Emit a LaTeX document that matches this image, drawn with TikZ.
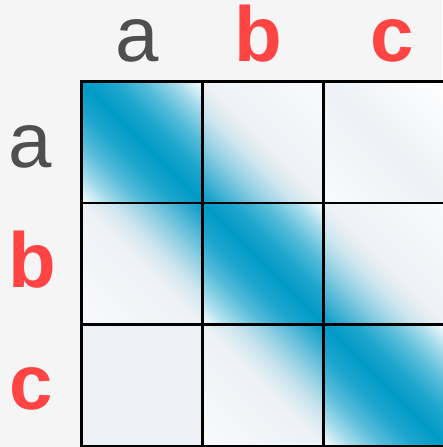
\documentclass[tikz,border=0pt]{standalone}
\usepackage{fontspec}
\setmainfont{Liberation Sans}
\usetikzlibrary{positioning}

\definecolor{bandblue}{RGB}{0,154,199}
\definecolor{cellgrey}{RGB}{237,241,245}
\definecolor{cellpale}{RGB}{249,250,252}
\definecolor{pagegrey}{RGB}{245,245,245}
\definecolor{labelgrey}{RGB}{79,79,79}
\definecolor{labelred}{RGB}{255,68,68}
\colorlet{bandA}{bandblue!88!white}
\colorlet{bandB}{bandblue!66!white}
\colorlet{bandC}{bandblue!36!white}
\colorlet{fadeA}{bandblue!70!cellgrey}
\colorlet{fadeB}{bandblue!40!cellgrey}
\colorlet{fadeC}{bandblue!14!cellgrey}

% Shadings across a cell, lower left corner at 25bp, upper right corner at 75bp
\pgfdeclarehorizontalshading{diagband}{100bp}{color(0bp)=(white); color(25bp)=(white); color(31.25bp)=(bandC); color(37.5bp)=(bandB); color(43.75bp)=(bandA); color(50bp)=(bandblue); color(56.25bp)=(bandA); color(62.5bp)=(bandB); color(68.75bp)=(bandC); color(75bp)=(white); color(100bp)=(white)}
\pgfdeclarehorizontalshading{upperfade}{100bp}{color(0bp)=(bandblue); color(25bp)=(bandblue); color(31.25bp)=(fadeA); color(37.5bp)=(fadeB); color(43.75bp)=(fadeC); color(50bp)=(cellgrey); color(75bp)=(cellpale); color(100bp)=(cellpale)}
\pgfdeclarehorizontalshading{lowerfade}{100bp}{color(0bp)=(cellpale); color(25bp)=(cellpale); color(50bp)=(cellgrey); color(56.25bp)=(fadeC); color(62.5bp)=(fadeB); color(68.75bp)=(fadeA); color(75bp)=(bandblue); color(100bp)=(bandblue)}
\pgfdeclarehorizontalshading{farfade}{100bp}{color(0bp)=(cellpale); color(25bp)=(cellpale); color(50bp)=(cellgrey); color(75bp)=(white); color(100bp)=(white)}
\pgfdeclarehorizontalshading{flatgrey}{100bp}{color(0bp)=(cellgrey); color(100bp)=(cellgrey)}

\begin{document}
\begin{tikzpicture}[x=1pt, y=-1pt, node distance=0pt,
    cell/.style={rectangle, draw=black, line width=2.8pt, minimum width=121pt, minimum height=121.5pt, inner sep=0pt, outer sep=0pt},
    lbl/.style={font=\fontsize{78}{78}\selectfont, anchor=base, inner sep=0pt}]
    \fill[pagegrey] (0,0) rectangle (442,447);
    \useasboundingbox (0,0) rectangle (442,447);

    % Shading of each cell, across its diagonal
    \foreach \cx/\cy/\sh in {
        142/142.25/diagband, 263/142.25/upperfade, 384/142.25/farfade,
        142/263.75/lowerfade, 263/263.75/diagband, 384/263.75/upperfade,
        142/385.25/flatgrey, 263/385.25/lowerfade, 384/385.25/diagband} {
        \begin{scope}
            \clip (\cx-60.5,\cy-60.75) rectangle (\cx+60.5,\cy+60.75);
            \shade[transform canvas={shift={(\cx,\cy)}, rotate=45}, shading=\sh]
                (-86,-90) rectangle (86,90);
        \end{scope}
    }

    % Cells
    \node (aa) [cell] at (142,142.25) {};
    \node (ab) [cell, right=of aa] {};
    \node (ac) [cell, right=of ab] {};
    \node (ba) [cell, below=of aa] {};
    \node (bb) [cell, right=of ba] {};
    \node (bc) [cell, right=of bb] {};
    \node (ca) [cell, below=of ba] {};
    \node (cb) [cell, right=of ca] {};
    \node (cc) [cell, right=of cb] {};

    % Column labels
    \node (cola) [lbl, text=labelgrey] at (137,61) {a};
    \node (colb) [lbl, text=labelred] at (258,61) {\bfseries b};
    \node (colc) [lbl, text=labelred] at (392,61) {\bfseries c};

    % Row labels
    \node (rowa) [lbl, text=labelgrey] at (30,167) {a};
    \node (rowb) [lbl, text=labelred] at (32,287) {\bfseries b};
    \node (rowc) [lbl, text=labelred] at (31.5,409) {\bfseries c};
\end{tikzpicture}
\end{document}
